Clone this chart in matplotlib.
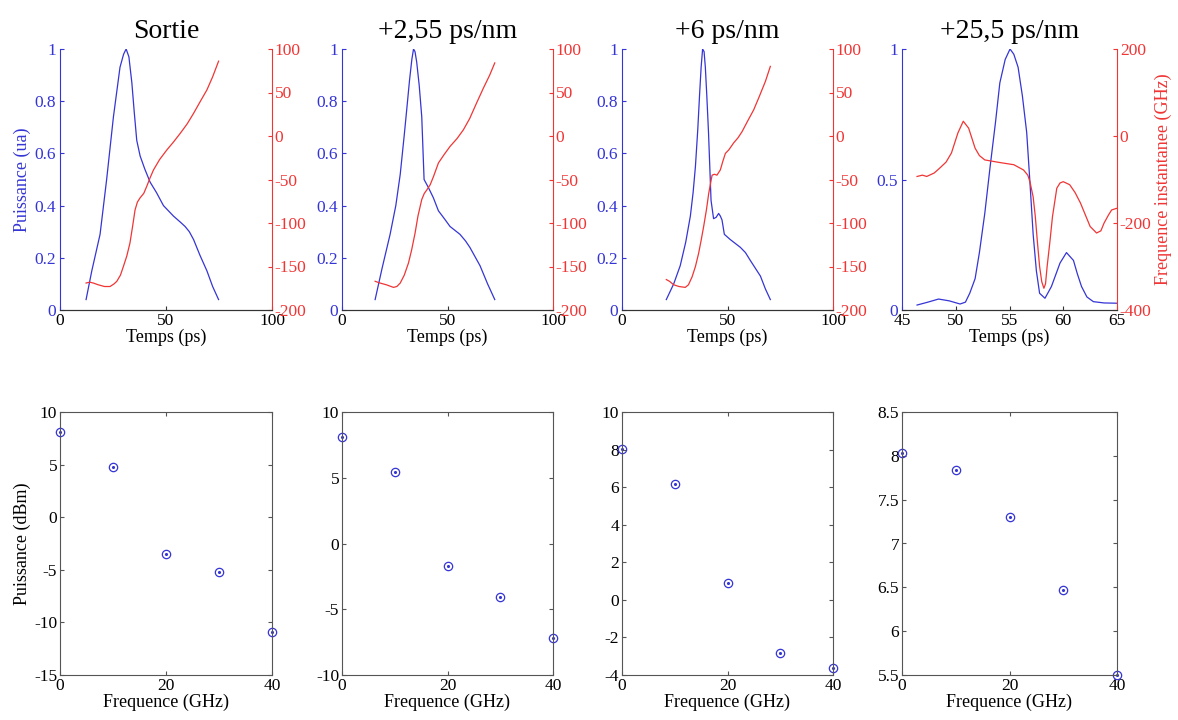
import matplotlib
matplotlib.use('Agg')
import matplotlib.pyplot as plt

plt.rcParams['font.family'] = ['Liberation Serif', 'DejaVu Serif']
plt.rcParams['axes.unicode_minus'] = False

# Titres des colonnes
titres = ['Sortie', '+2,55 ps/nm', '+6 ps/nm', '+25,5 ps/nm']

# Sortie : puissance (ua) et frequence instantanee (GHz)
t1_p = [12.3, 15, 18.9, 22, 25.2, 28.3, 30, 31.2, 32.5, 33.9, 35, 36.2, 37.8, 40, 42.5, 45.5, 48.8,
        53.5, 57, 59, 61, 63, 66, 69.3, 72, 74.8]
p1 = [0.04, 0.15, 0.29, 0.50, 0.74, 0.93, 0.98, 1.0, 0.97, 0.87, 0.76, 0.65, 0.59, 0.54, 0.49,
      0.45, 0.40, 0.36, 0.335, 0.32, 0.30, 0.27, 0.21, 0.15, 0.09, 0.04]
t1_f = [12.3, 14, 15.7, 18, 21, 23.6, 25.5, 26.8, 28.5, 29.9, 31.5, 33, 34.3, 35.4, 36.5, 37.8,
        39.5, 40.9, 42.5, 44.1, 47, 50.4, 53.5, 56.7, 60, 63, 66, 69.3, 72, 74.8]
f1 = [-169, -168, -169, -171, -173, -173, -170, -167, -160, -150, -138, -123, -103, -85, -76, -71,
      -66, -58, -48, -39, -27, -16, -7, 3, 14, 26, 39, 53, 68, 86]

# +2,55 ps/nm
t2_p = [15.7, 19, 22.8, 25.5, 27.6, 29.5, 30.7, 32, 33.1, 33.9, 34.6, 35.4, 36.6, 37.8, 38.9,
        40.9, 43.3, 45.7, 48.5, 51.2, 55.9, 58.5, 60.6, 63, 65.4, 69, 72.4]
p2 = [0.04, 0.16, 0.29, 0.40, 0.52, 0.67, 0.77, 0.88, 0.96, 1.0, 0.99, 0.95, 0.86, 0.74, 0.50,
      0.47, 0.43, 0.38, 0.35, 0.32, 0.29, 0.265, 0.24, 0.205, 0.17, 0.10, 0.04]
t2_f = [15.7, 18, 21, 24.4, 26, 27.6, 29.5, 31.5, 33, 34.6, 36, 37.8, 39, 40.2, 41.8, 43.3, 45.7,
        48.5, 51.2, 54.5, 57.5, 60.5, 63.8, 67, 70, 72.4]
f2 = [-167, -169, -171, -174, -173, -169, -160, -146, -131, -112, -92, -73, -66, -62, -56, -47,
      -31, -21, -12, -3, 7, 20, 38, 55, 70, 84]

# +6 ps/nm
t3_p = [21, 24.5, 27.6, 30.2, 32.4, 33.7, 34.8, 35.9, 36.8, 37.5, 38.2, 38.9, 39.5, 40.2, 41,
        41.6, 42.2, 43.4, 44.6, 45.8, 46.6, 47.4, 48.5, 51.3, 56.1, 58.5, 60.8, 63.2, 65.6, 68,
        70.3]
p3 = [0.04, 0.10, 0.17, 0.26, 0.36, 0.45, 0.55, 0.69, 0.83, 0.93, 1.0, 0.99, 0.93, 0.82, 0.68,
      0.55, 0.42, 0.35, 0.355, 0.37, 0.36, 0.345, 0.29, 0.27, 0.24, 0.22, 0.19, 0.16, 0.13, 0.08,
      0.04]
t3_f = [21, 22.5, 24.5, 27, 30, 31.5, 33.2, 34.8, 36.3, 37.5, 38.7, 40, 41.1, 42, 42.7, 43.8, 45,
        46.6, 47.8, 49, 50.6, 52.9, 55, 56.9, 59.5, 62.4, 65, 68, 70.3]
f3 = [-165, -167, -171, -173, -174, -171, -162, -150, -135, -120, -104, -85, -66, -54, -45, -44,
      -45, -39, -29, -20, -16, -8, -2, 5, 17, 30, 45, 63, 80]

# +25,5 ps/nm
t4_p = [46.4, 47.4, 48.4, 49.4, 50.4, 50.9, 51.3, 51.8, 52.2, 52.7, 53.2, 53.7, 54.1, 54.6,
        55.05, 55.4, 55.8, 56.2, 56.6, 56.9, 57.2, 57.5, 57.8, 58.3, 58.9, 59.3, 59.7, 60.3,
        60.95, 61.3, 61.7, 62.2, 62.8, 63.8, 65]
p4 = [0.019, 0.03, 0.042, 0.035, 0.023, 0.03, 0.064, 0.12, 0.22, 0.37, 0.55, 0.72, 0.87, 0.96,
      1.0, 0.98, 0.93, 0.82, 0.68, 0.49, 0.29, 0.15, 0.064, 0.045, 0.09, 0.135, 0.18, 0.22, 0.19,
      0.14, 0.09, 0.05, 0.032, 0.027, 0.026]
t4_f = [46.4, 46.9, 47.3, 48, 48.5, 49.1, 49.6, 50.2, 50.7, 51.2, 51.8, 52.2, 52.7, 53.4, 54.1,
        55.4, 56.3, 56.7, 56.9, 57.2, 57.4, 57.6, 57.8, 58.0, 58.2, 58.35, 58.5, 58.75, 59, 59.4,
        59.7, 60.0, 60.6, 61.1, 61.6, 62, 62.5, 63.1, 63.5, 63.8, 64.2, 64.5, 65]
f4 = [-93, -90, -93, -85, -74, -60, -39, 7, 34, 18, -28, -45, -55, -58, -61, -66, -78, -90, -105,
      -140, -185, -245, -300, -335, -350, -340, -300, -245, -185, -120, -108, -105, -112, -130,
      -154, -178, -208, -223, -218, -200, -182, -170, -166]

temps_p = [t1_p, t2_p, t3_p, t4_p]
puissance = [p1, p2, p3, p4]
temps_f = [t1_f, t2_f, t3_f, t4_f]
frequence = [f1, f2, f3, f4]

# Spectres : puissance des raies (dBm)
raies = [0, 10, 20, 30, 40]
dbm1 = [8.1, 4.8, -3.5, -5.2, -10.9]
dbm2 = [8.1, 5.4, -1.7, -4.1, -7.2]
dbm3 = [8.05, 6.15, 0.9, -2.85, -3.65]
dbm4 = [8.03, 7.84, 7.3, 6.47, 5.5]
spectres = [dbm1, dbm2, dbm3, dbm4]

bleu = '#3535d5'
rouge = '#f03535'
W, H = 1178, 720
colonnes = [(60, 272), (342, 553), (622, 833), (902, 1117)]


def cadre(x0, x1, y_haut, y_bas):
    return [x0 / W, 1 - y_bas / H, (x1 - x0) / W, (y_bas - y_haut) / H]


def lab(v):
    return ['%g' % x for x in v]


fig = plt.figure(figsize=(W / 100, H / 100), dpi=100)

for i in range(4):
    x0, x1 = colonnes[i]
    ax = fig.add_axes(cadre(x0, x1, 49, 310))
    ax2 = ax.twinx()
    ax.plot(temps_p[i], puissance[i], color=bleu, lw=0.9)
    ax2.plot(temps_f[i], frequence[i], color=rouge, lw=0.9)

    if i < 3:
        ax.set_xlim(0, 100)
        ax.set_xticks([0, 50, 100])
        ax.set_yticks([0, 0.2, 0.4, 0.6, 0.8, 1])
        ax2.set_ylim(-200, 100)
        ax2.set_yticks(range(-200, 101, 50))
    else:
        ax.set_xlim(45, 65)
        ax.set_xticks([45, 50, 55, 60, 65])
        ax.set_yticks([0, 0.5, 1])
        ax2.set_ylim(-400, 200)
        ax2.set_yticks([-400, -200, 0, 200])
        ax2.set_ylabel('Frequence instantanee (GHz)', color=rouge, fontsize=13, labelpad=2)
    ax.set_ylim(0, 1)
    ax.set_xticklabels(lab(ax.get_xticks()))
    ax.set_yticklabels(lab(ax.get_yticks()))
    ax2.set_yticklabels(lab(ax2.get_yticks()))

    for a in (ax, ax2):
        a.spines['top'].set_visible(False)
    ax.spines['left'].set_color(bleu)
    ax.spines['right'].set_visible(False)
    ax2.spines['left'].set_visible(False)
    ax2.spines['right'].set_color(rouge)
    ax.spines['bottom'].set_color('#333333')
    ax2.spines['bottom'].set_color('#333333')
    ax.tick_params(axis='y', direction='in', length=3, colors=bleu, labelsize=12.5, pad=3)
    ax.tick_params(axis='x', direction='in', length=3, color='#333333', labelcolor='black',
                   labelsize=12.5, pad=2)
    ax2.tick_params(axis='y', direction='in', length=3, colors=rouge, labelsize=12.5, pad=2)

    ax.set_title(titres[i], fontsize=20, pad=8)
    ax.set_xlabel('Temps (ps)', fontsize=13, labelpad=0)
    if i == 0:
        ax.set_ylabel('Puissance (ua)', color=bleu, fontsize=13, labelpad=2)

    # spectre en bas
    bx = fig.add_axes(cadre(x0, x1, 412, 675))
    bx.plot(raies, spectres[i], 'o', mfc='none', mec=bleu, ms=6, mew=0.9, clip_on=False)
    bx.plot(raies, spectres[i], '.', color=bleu, ms=2.5, clip_on=False)
    bx.set_xlim(0, 40)
    bx.set_xticks([0, 20, 40])
    lims = [(-15, 10, 5), (-10, 10, 5), (-4, 10, 2), (5.5, 8.5, 0.5)][i]
    bx.set_ylim(lims[0], lims[1])
    yt = []
    v = lims[0]
    while v <= lims[1] + 1e-9:
        yt.append(round(v, 2))
        v += lims[2]
    bx.set_yticks(yt)
    bx.set_yticklabels(lab(yt))
    bx.set_xticklabels(lab([0, 20, 40]))
    for s in bx.spines.values():
        s.set_color('#555555')
        s.set_linewidth(0.8)
    bx.tick_params(direction='in', length=3, top=True, right=True, color='#555555',
                   labelcolor='black', labelsize=12.5, pad=2)
    bx.set_xlabel('Frequence (GHz)', fontsize=13, labelpad=0)
    if i == 0:
        bx.set_ylabel('Puissance (dBm)', fontsize=13, labelpad=2)

fig.savefig('out.png', dpi=100)
